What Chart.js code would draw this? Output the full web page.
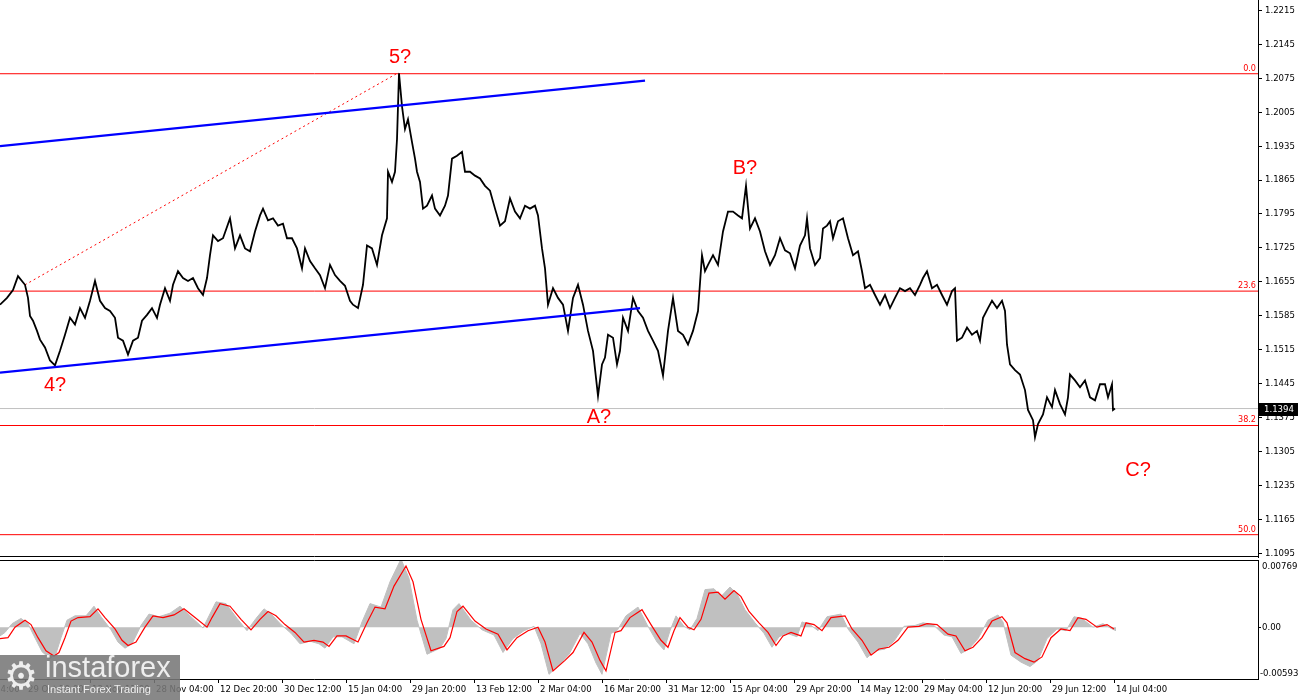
<!DOCTYPE html>
<html lang="en">
<head>
<meta charset="UTF-8">
<title>EURUSD H4</title>
<script src="https://cdn.jsdelivr.net/npm/chart.js"></script>
<style>
  body { margin: 0; background: #fff; width: 1300px; height: 700px; overflow: hidden; position: relative; }
  canvas { position: absolute; left: 0; }
  #main { top: 0; width: 1300px; height: 558px; }
  #osc { top: 558px; width: 1300px; height: 142px; }
  .logo { position: absolute; left: 0; top: 655px; width: 180px; height: 45px; background: rgba(120,120,120,0.88); color: #eee; }
  .gear { position: absolute; left: 4px; top: 0; font: 38px "DejaVu Sans", sans-serif; line-height: 42px; }
  .brand { position: absolute; left: 45px; top: -2px; font: 29px "Liberation Sans", Arial, sans-serif; line-height: 29px; }
  .sub { position: absolute; left: 47px; top: 29px; font: 11px "Liberation Sans", Arial, sans-serif; line-height: 11px; }
</style>
</head>
<body>
<canvas id="main" width="1300" height="558"></canvas>
<canvas id="osc" width="1300" height="142"></canvas>
<div class="logo"><span class="gear">&#9881;</span><span class="brand">instaforex</span><span class="sub">Instant Forex Trading</span></div>
<script>
// H4 bars, one bar per pixel; bar index counted from the left edge
const priceBars = [
  0,7,13,18,25,28,30,33,37,40,
  45,50,55,60,65,70,75,80,85,90,
  95,100,105,110,115,118,123,128,133,138,
  142,147,152,157,160,165,170,173,178,183,
  188,193,198,203,207,210,213,218,223,230,
  235,240,245,250,255,260,263,268,273,278,
  283,287,292,297,302,305,310,315,320,325,
  330,335,340,345,350,353,358,363,367,372,
  377,382,387,388,392,395,397,399,402,405,
  408,412,415,417,420,423,427,432,435,440,
  445,448,452,457,462,465,470,475,480,485,
  490,495,500,505,510,515,520,525,530,535,
  538,542,545,548,553,558,563,568,573,578,
  583,588,593,598,602,605,608,613,617,620,
  623,628,633,638,643,648,653,658,663,668,
  673,678,683,688,693,698,702,705,708,713,
  718,723,728,733,738,742,746,750,755,760,
  765,770,775,780,785,790,795,800,805,807,
  810,815,820,823,827,830,833,838,843,848,
  853,858,862,865,870,875,880,885,890,895,
  900,905,910,915,920,923,927,932,937,942,
  947,952,955,957,962,967,972,977,980,983,
  988,992,997,1002,1005,1007,1010,1015,1020,1025,
  1028,1033,1035,1038,1043,1047,1052,1055,1060,1065,
  1068,1070,1075,1080,1085,1090,1095,1100,1105,1108,
  1112,1113,1115
];
const priceVals = [
  1.1608,1.1622,1.1638,1.1667,1.1649,1.1622,1.1585,1.1575,1.1554,1.1536,
  1.1520,1.1493,1.1483,1.1513,1.1546,1.1581,1.1567,1.1601,1.1581,1.1616,
  1.1657,1.1616,1.1601,1.1595,1.1581,1.1540,1.1534,1.1505,1.1534,1.1540,
  1.1575,1.1587,1.1601,1.1581,1.1608,1.1642,1.1616,1.1649,1.1677,1.1663,
  1.1657,1.1663,1.1642,1.1628,1.1663,1.1710,1.1751,1.1739,1.1745,1.1786,
  1.1724,1.1751,1.1724,1.1718,1.1759,1.1792,1.1806,1.1782,1.1786,1.1771,
  1.1775,1.1745,1.1745,1.1724,1.1683,1.1724,1.1698,1.1683,1.1669,1.1642,
  1.1690,1.1669,1.1657,1.1647,1.1616,1.1608,1.1601,1.1649,1.1730,1.1724,
  1.1690,1.1751,1.1786,1.1882,1.1861,1.1882,1.1949,1.2085,1.2017,1.1970,
  1.1990,1.1943,1.1909,1.1882,1.1861,1.1806,1.1812,1.1833,1.1806,1.1792,
  1.1812,1.1833,1.1909,1.1915,1.1923,1.1882,1.1882,1.1874,1.1868,1.1853,
  1.1843,1.1806,1.1771,1.1780,1.1827,1.1800,1.1786,1.1812,1.1806,1.1812,
  1.1792,1.1724,1.1683,1.1608,1.1642,1.1622,1.1608,1.1554,1.1622,1.1649,
  1.1608,1.1554,1.1513,1.1420,1.1485,1.1499,1.1546,1.1540,1.1485,1.1513,
  1.1581,1.1554,1.1622,1.1595,1.1581,1.1554,1.1534,1.1513,1.1462,1.1554,
  1.1622,1.1554,1.1546,1.1526,1.1554,1.1595,1.1710,1.1677,1.1690,1.1710,
  1.1690,1.1759,1.1800,1.1800,1.1792,1.1786,1.1853,1.1765,1.1786,1.1759,
  1.1718,1.1690,1.1710,1.1745,1.1720,1.1714,1.1683,1.1730,1.1751,1.1786,
  1.1724,1.1690,1.1704,1.1765,1.1771,1.1780,1.1745,1.1780,1.1786,1.1745,
  1.1710,1.1718,1.1677,1.1642,1.1649,1.1628,1.1608,1.1628,1.1601,1.1622,
  1.1642,1.1636,1.1642,1.1628,1.1649,1.1663,1.1677,1.1642,1.1649,1.1628,
  1.1608,1.1636,1.1642,1.1534,1.1540,1.1561,1.1546,1.1554,1.1534,1.1581,
  1.1601,1.1616,1.1601,1.1616,1.1595,1.1526,1.1485,1.1473,1.1464,1.1432,
  1.1391,1.1370,1.1335,1.1362,1.1382,1.1417,1.1397,1.1432,1.1403,1.1382,
  1.1417,1.1464,1.1452,1.1438,1.1452,1.1417,1.1411,1.1444,1.1444,1.1417,
  1.1444,1.1391,1.1394
];
const lastPrice = 1.1394;

// fibonacci levels
const fibLevels = [1.2084, 1.1636, 1.1359, 1.1134];
const fibNames = ['0.0', '23.6', '38.2', '50.0'];

// channel and helper lines (bar, price)
const upperBars = [0, 645];
const upperPrices = [1.1935, 1.2070];
const lowerBars = [0, 640];
const lowerPrices = [1.1468, 1.1601];
const dotBars = [25, 399];
const dotPrices = [1.1649, 1.2087];

// wave marks
const waveText = ['4?', '5?', 'A?', 'B?', 'C?'];
const waveBar = [55, 400, 599, 745, 1138];
const wavePrice = [1.1442, 1.2117, 1.1376, 1.1888, 1.1266];

// axis ticks
const priceTicks = [1.2215, 1.2145, 1.2075, 1.2005, 1.1935, 1.1865, 1.1795, 1.1725, 1.1655,
  1.1585, 1.1515, 1.1445, 1.1375, 1.1305, 1.1235, 1.1165, 1.1095];
const tickBars = [-38, 26, 90, 154, 218, 282, 346, 410, 474, 538, 602, 666, 730, 794, 858, 922, 986, 1050, 1114];
const tickLabels = ['14 Oct 04:00', '29 Oct 20:00', '13 Nov 12:00', '28 Nov 04:00', '12 Dec 20:00',
  '30 Dec 12:00', '15 Jan 04:00', '29 Jan 20:00', '13 Feb 12:00', '2 Mar 04:00', '16 Mar 20:00',
  '31 Mar 12:00', '15 Apr 04:00', '29 Apr 20:00', '14 May 12:00', '29 May 04:00', '12 Jun 20:00',
  '29 Jun 12:00', '14 Jul 04:00'];
const oscMax = 0.00769;
const oscMin = -0.00593;

// oscillator: signal line
const sigBars = [
  0,8,15,25,31,38,46,54,59,65,
  71,78,90,98,105,115,122,128,136,145,
  153,163,174,184,195,207,212,220,230,241,
  251,260,268,276,285,295,304,314,323,329,
  337,346,358,367,375,385,394,406,413,421,
  431,444,450,457,463,475,486,498,507,517,
  528,538,545,553,565,573,584,592,600,606,
  615,621,630,642,651,661,668,674,680,688,
  694,701,709,718,725,734,741,749,759,768,
  776,783,791,801,806,814,822,831,845,852,
  862,871,879,889,898,908,919,927,937,948,
  956,965,973,982,992,1002,1007,1015,1025,1034,
  1042,1051,1061,1070,1078,1086,1097,1107,1114
];
const sigVals = [
  -0.0013,-0.0012,0.0000,0.0008,0.0003,-0.0012,-0.0027,-0.0033,-0.0029,-0.0012,
  0.0007,0.0011,0.0012,0.0021,0.0011,-0.0002,-0.0015,-0.0021,-0.0017,0.0000,
  0.0013,0.0011,0.0014,0.0021,0.0011,0.0000,0.0011,0.0027,0.0024,0.0009,
  -0.0003,0.0009,0.0018,0.0013,0.0003,-0.0006,-0.0017,-0.0015,-0.0017,-0.0022,
  -0.0010,-0.0010,-0.0017,0.0005,0.0023,0.0021,0.0047,0.0070,0.0052,0.0009,
  -0.0027,-0.0022,-0.0012,0.0018,0.0024,0.0007,-0.0002,-0.0008,-0.0026,-0.0012,
  -0.0004,0.0000,-0.0017,-0.0050,-0.0038,-0.0029,-0.0006,-0.0017,-0.0038,-0.0050,
  -0.0006,-0.0004,0.0011,0.0020,0.0003,-0.0015,-0.0023,-0.0004,0.0011,0.0000,
  -0.0003,0.0009,0.0039,0.0040,0.0032,0.0042,0.0035,0.0018,0.0005,-0.0006,
  -0.0021,-0.0010,-0.0006,-0.0010,0.0005,0.0003,-0.0004,0.0011,0.0013,-0.0002,
  -0.0015,-0.0032,-0.0025,-0.0023,-0.0015,0.0000,0.0001,0.0004,0.0003,-0.0008,
  -0.0010,-0.0027,-0.0023,-0.0012,0.0007,0.0012,0.0005,-0.0029,-0.0036,-0.0040,
  -0.0034,-0.0012,-0.0002,-0.0004,0.0011,0.0009,0.0000,0.0003,-0.0002
];

// oscillator: histogram
const histBars = [
  0,5,12,21,28,34,42,50,56,61,
  67,75,86,94,101,111,118,125,132,141,
  149,159,170,180,191,203,209,216,226,237,
  247,256,264,272,281,291,300,310,319,325,
  333,342,354,362,370,381,390,401,409,417,
  427,440,446,453,459,471,482,494,503,513,
  524,534,541,549,561,569,580,588,596,602,
  611,617,626,638,647,657,664,670,676,684,
  690,697,705,714,721,730,737,745,755,764,
  772,779,787,797,802,810,818,827,841,848,
  858,867,875,885,894,904,915,923,933,944,
  952,961,969,978,988,998,1003,1011,1021,1030,
  1038,1047,1057,1066,1074,1082,1093,1103,1112,1116
];
const histVals = [
  -0.0010,-0.0006,0.0004,0.0010,0.0004,-0.0010,-0.0028,-0.0036,-0.0030,-0.0012,
  0.0008,0.0013,0.0013,0.0024,0.0012,-0.0003,-0.0017,-0.0024,-0.0019,0.0002,
  0.0015,0.0012,0.0016,0.0024,0.0012,-0.0001,0.0013,0.0029,0.0027,0.0010,
  -0.0004,0.0010,0.0021,0.0014,0.0003,-0.0007,-0.0019,-0.0016,-0.0019,-0.0024,
  -0.0011,-0.0011,-0.0019,0.0006,0.0027,0.0023,0.0052,0.0078,0.0056,0.0008,
  -0.0031,-0.0024,-0.0013,0.0020,0.0027,0.0008,-0.0003,-0.0009,-0.0029,-0.0013,
  -0.0004,0.0001,-0.0019,-0.0054,-0.0041,-0.0031,-0.0007,-0.0019,-0.0041,-0.0054,
  -0.0007,-0.0004,0.0013,0.0023,0.0003,-0.0017,-0.0026,-0.0004,0.0013,0.0001,
  -0.0003,0.0010,0.0043,0.0044,0.0035,0.0046,0.0038,0.0020,0.0005,-0.0007,
  -0.0023,-0.0011,-0.0007,-0.0011,0.0006,0.0003,-0.0004,0.0012,0.0015,-0.0002,
  -0.0017,-0.0035,-0.0027,-0.0025,-0.0016,0.0001,0.0002,0.0005,0.0003,-0.0009,
  -0.0011,-0.0030,-0.0025,-0.0013,0.0008,0.0014,0.0006,-0.0032,-0.0040,-0.0045,
  -0.0038,-0.0013,-0.0002,-0.0004,0.0012,0.0010,0.0000,0.0004,-0.0002,-0.0004
];

const AXIS_FONT = '"DejaVu Sans Condensed", "Liberation Sans Narrow", "Liberation Sans", sans-serif';
const LAST_BAR = 1258;

function pts(xs, ys) {
  return xs.map((v, i) => ({ x: v, y: ys[i] }));
}
function hline(level) {
  return [{ x: 0, y: level }, { x: LAST_BAR, y: level }];
}
// keep the axes from reserving room for overhanging labels
function noPad(s) {
  s.paddingTop = 0; s.paddingBottom = 0; s.paddingLeft = 0; s.paddingRight = 0;
}

// --- main price panel ---
const mainDecor = {
  id: 'mainDecor',
  afterDraw(chart) {
    const { ctx, chartArea: a, scales: { x, y } } = chart;
    ctx.save();
    ctx.strokeStyle = '#000';
    ctx.lineWidth = 1;
    ctx.beginPath();
    ctx.moveTo(0, a.bottom - 0.5);
    ctx.lineTo(a.right, a.bottom - 0.5);
    ctx.stroke();

    ctx.font = '9px ' + AXIS_FONT;
    ctx.fillStyle = '#ff0000';
    ctx.textAlign = 'right';
    ctx.textBaseline = 'bottom';
    fibLevels.forEach((lv, i) => ctx.fillText(fibNames[i], a.right - 2, y.getPixelForValue(lv) - 1));

    ctx.font = '20px "Liberation Sans", Arial, sans-serif';
    ctx.textAlign = 'center';
    ctx.textBaseline = 'middle';
    waveText.forEach((t, i) => ctx.fillText(t, x.getPixelForValue(waveBar[i]), y.getPixelForValue(wavePrice[i])));

    const py = Math.round(y.getPixelForValue(lastPrice));
    ctx.fillStyle = '#000';
    ctx.fillRect(a.right + 1, py - 6, 39, 13);
    ctx.fillStyle = '#fff';
    ctx.font = '9.5px ' + AXIS_FONT;
    ctx.textAlign = 'left';
    ctx.textBaseline = 'middle';
    ctx.fillText(lastPrice.toFixed(4), a.right + 6, py + 0.5);
    ctx.restore();
  }
};

const lineDefaults = { pointRadius: 0, tension: 0, fill: false };

new Chart(document.getElementById('main'), {
  type: 'line',
  data: {
    datasets: [
      { ...lineDefaults, data: pts(upperBars, upperPrices), borderColor: '#0000ff', borderWidth: 2.2 },
      { ...lineDefaults, data: pts(lowerBars, lowerPrices), borderColor: '#0000ff', borderWidth: 2.2 },
      { ...lineDefaults, data: pts(priceBars, priceVals), borderColor: '#000', borderWidth: 1.8 },
      { ...lineDefaults, data: pts(dotBars, dotPrices), borderColor: '#ff0000', borderWidth: 1, borderDash: [2, 3] },
      ...fibLevels.map(lv => ({ ...lineDefaults, data: hline(lv), borderColor: '#ff0000', borderWidth: 1 })),
      { ...lineDefaults, data: hline(lastPrice), borderColor: '#c0c0c0', borderWidth: 1 }
    ]
  },
  options: {
    responsive: false,
    animation: false,
    devicePixelRatio: 1,
    events: [],
    layout: { padding: { left: 0, right: 0, top: 0, bottom: 1 } },
    plugins: { legend: { display: false }, tooltip: { enabled: false } },
    scales: {
      x: { type: 'linear', min: 0, max: LAST_BAR, display: false },
      y: {
        type: 'linear', position: 'right', min: 1.1088, max: 1.2236,
        afterBuildTicks: s => { s.ticks = priceTicks.map(v => ({ value: v })); },
        afterFit: s => { s.width = 42; noPad(s); },
        ticks: { callback: v => v.toFixed(4), color: '#000', padding: 3, font: { family: AXIS_FONT, size: 9.5 } },
        grid: { drawOnChartArea: false, drawTicks: true, tickLength: 4, color: '#000' },
        border: { display: true, color: '#000' }
      }
    }
  },
  plugins: [mainDecor]
});

// --- oscillator panel ---
const oscDecor = {
  id: 'oscDecor',
  afterDraw(chart) {
    const { ctx, chartArea: a, scales: { y } } = chart;
    ctx.save();
    ctx.strokeStyle = '#000';
    ctx.lineWidth = 1;
    ctx.beginPath();
    ctx.moveTo(0, a.top + 0.5);
    ctx.lineTo(a.right, a.top + 0.5);
    ctx.stroke();
    ctx.fillStyle = '#000';
    ctx.font = '9.5px ' + AXIS_FONT;
    ctx.textAlign = 'left';
    ctx.textBaseline = 'top';
    ctx.fillText(oscMax.toFixed(5), a.right + 4, a.top + 2);
    ctx.textBaseline = 'middle';
    ctx.fillText('0.00', a.right + 4, y.getPixelForValue(0));
    ctx.textBaseline = 'bottom';
    ctx.fillText(oscMin.toFixed(5), a.right + 2, a.bottom - 1);
    ctx.restore();
  }
};

new Chart(document.getElementById('osc'), {
  type: 'line',
  data: {
    datasets: [
      { ...lineDefaults, data: pts(sigBars, sigVals), borderColor: '#ff0000', borderWidth: 1.2 },
      { pointRadius: 0, tension: 0, data: pts(histBars, histVals), borderColor: '#c0c0c0', borderWidth: 1,
        backgroundColor: '#c0c0c0', fill: 'origin' }
    ]
  },
  options: {
    responsive: false,
    animation: false,
    devicePixelRatio: 1,
    events: [],
    layout: { padding: { left: 0, right: 0, top: 2, bottom: 0 } },
    plugins: { legend: { display: false }, tooltip: { enabled: false } },
    scales: {
      x: {
        type: 'linear', min: 0, max: LAST_BAR, position: 'bottom',
        afterBuildTicks: s => { s.ticks = tickBars.map(v => ({ value: v })); },
        afterFit: s => { s.height = 21; noPad(s); },
        ticks: {
          autoSkip: false, maxRotation: 0, minRotation: 0, align: 'start', padding: 1, labelOffset: 2,
          color: '#000', font: { family: AXIS_FONT, size: 9.5 },
          callback: v => tickLabels[tickBars.indexOf(v)]
        },
        grid: { drawOnChartArea: false, drawTicks: true, tickLength: 4, color: '#000' },
        border: { display: true, color: '#000' }
      },
      y: {
        type: 'linear', position: 'right', min: oscMin, max: oscMax,
        afterBuildTicks: s => { s.ticks = [{ value: 0 }]; },
        afterFit: s => { s.width = 42; noPad(s); },
        ticks: { display: false },
        grid: { drawOnChartArea: false, drawTicks: true, tickLength: 3, color: '#000' },
        border: { display: true, color: '#000' }
      }
    }
  },
  plugins: [oscDecor]
});
</script>
</body>
</html>
